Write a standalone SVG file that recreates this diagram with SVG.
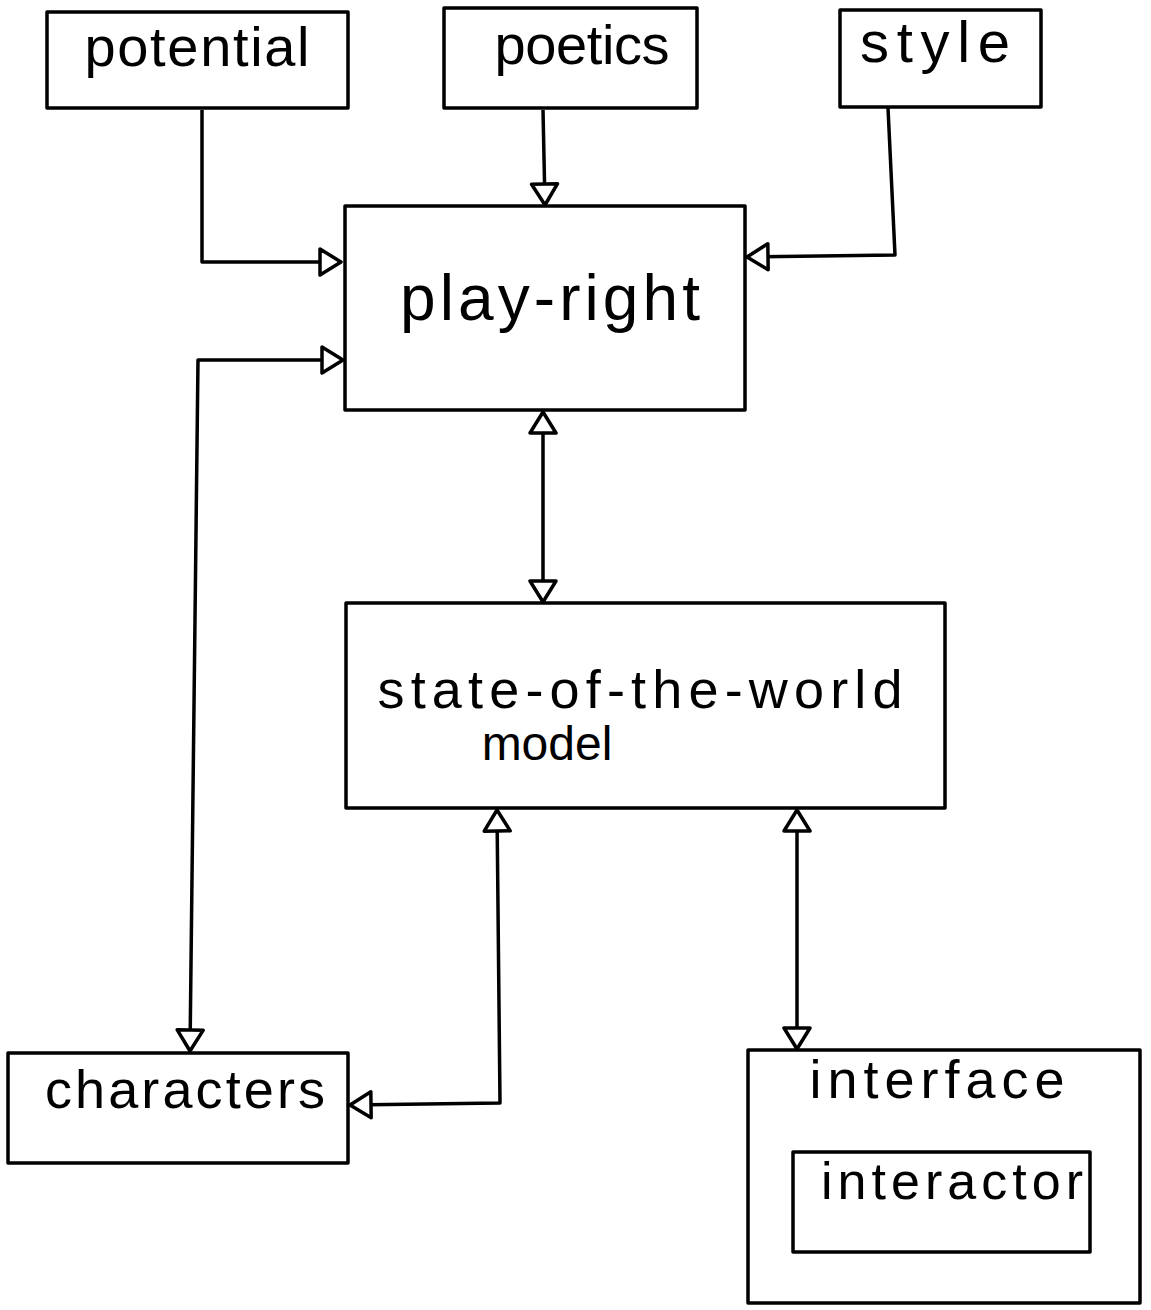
<svg xmlns="http://www.w3.org/2000/svg" width="1151" height="1310" viewBox="0 0 1151 1310">
<style>
.box{fill:none;stroke:#000;stroke-width:3.5;stroke-linejoin:round}
.lbl{font-family:"Liberation Sans","DejaVu Sans",sans-serif;fill:#000;text-anchor:middle}
.con{fill:none;stroke:#000;stroke-width:3.5;stroke-linejoin:round}
</style>
<defs>
<marker id="tri" viewBox="0 0 26 32" refX="24" refY="16" markerWidth="26" markerHeight="32" markerUnits="userSpaceOnUse" orient="auto-start-reverse">
<path d="M3,3 L24,16 L3,29 Z" fill="#fff" stroke="#000" stroke-width="3.5" stroke-linejoin="round"/>
</marker>
</defs>
<rect width="1151" height="1310" fill="#fff"/>
<g id="connectors">
<path class="con" d="M202,110 L202,262 L341,262" marker-end="url(#tri)"/>
<path class="con" d="M543,110 L545,205" marker-end="url(#tri)"/>
<path class="con" d="M888,108 L895,255 L747,257" marker-end="url(#tri)"/>
<path class="con" d="M343,360 L198,360 L190,1051" marker-start="url(#tri)" marker-end="url(#tri)"/>
<path class="con" d="M543,412 L543,602" marker-start="url(#tri)" marker-end="url(#tri)"/>
<path class="con" d="M497,810 L500,1103 L350,1105" marker-start="url(#tri)" marker-end="url(#tri)"/>
<path class="con" d="M797,810 L797,1049" marker-start="url(#tri)" marker-end="url(#tri)"/>
</g>
<g id="potential">
<rect class="box" x="47" y="12" width="301" height="96"/>
<text class="lbl" x="197" y="66" font-size="56" textLength="225">potential</text>
</g>
<g id="poetics">
<rect class="box" x="444" y="8" width="253" height="100"/>
<text class="lbl" x="582" y="64" font-size="56" textLength="175">poetics</text>
</g>
<g id="style">
<rect class="box" x="840" y="10" width="201" height="97"/>
<text class="lbl" x="935" y="62" font-size="58" textLength="150">style</text>
</g>
<g id="play-right">
<rect class="box" x="345" y="206" width="400" height="204"/>
<text class="lbl" x="550" y="320" font-size="64" textLength="300">play-right</text>
</g>
<g id="state-of-the-world-model">
<rect class="box" x="346" y="603" width="599" height="205"/>
<text class="lbl" x="640" y="708" font-size="54" textLength="525">state-of-the-world</text>
<text class="lbl" x="547" y="760" font-size="48">model</text>
</g>
<g id="characters">
<rect class="box" x="8" y="1053" width="340" height="110"/>
<text class="lbl" x="185" y="1108" font-size="54" textLength="280">characters</text>
</g>
<g id="interface">
<rect class="box" x="748" y="1050" width="392" height="253"/>
<text class="lbl" x="937" y="1098" font-size="54" textLength="255">interface</text>
</g>
<g id="interactor">
<rect class="box" x="793" y="1152" width="297" height="100"/>
<text class="lbl" x="952" y="1199" font-size="52" textLength="262">interactor</text>
</g>
</svg>
